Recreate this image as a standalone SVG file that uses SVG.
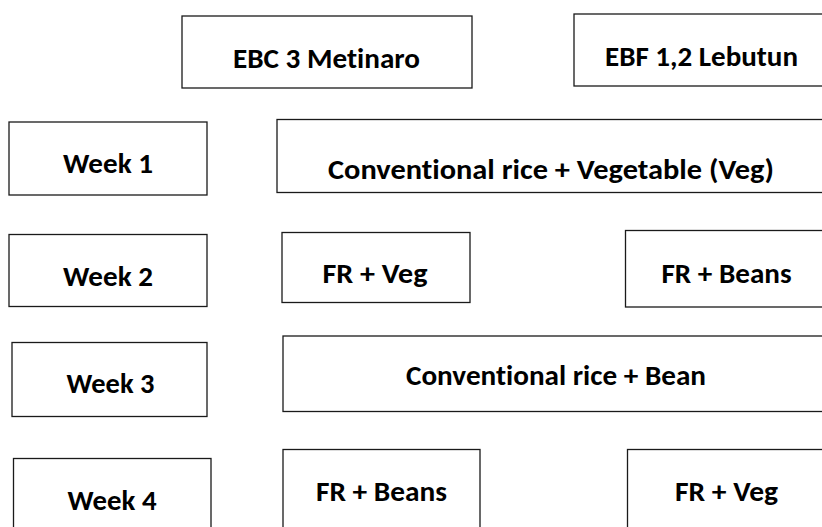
<svg xmlns="http://www.w3.org/2000/svg" width="822" height="527" viewBox="0 0 822 527">
<style>
.box{fill:#fff;stroke:#1a1a1a;stroke-width:1.3}
.lbl{font-family:Carlito,"Open Sans","Liberation Sans",sans-serif;font-weight:700;font-size:29px;fill:#000;text-anchor:middle;font-variant-ligatures:none;font-feature-settings:"liga" 0}
</style>
<rect width="822" height="527" fill="#fff"/>
<g id="n-ebc3"><rect class="box" x="182" y="16" width="290" height="72"/><text class="lbl" x="326.5" y="68" textLength="187" lengthAdjust="spacingAndGlyphs">EBC 3 Metinaro</text></g>
<g id="n-ebf12"><rect class="box" x="574" y="14" width="260" height="72"/><text class="lbl" x="701.5" y="65.5" textLength="193" lengthAdjust="spacingAndGlyphs">EBF 1,2 Lebutun</text></g>
<g id="n-week1"><rect class="box" x="9" y="122" width="198" height="73"/><text class="lbl" x="108" y="173" textLength="90" lengthAdjust="spacingAndGlyphs">Week 1</text></g>
<g id="n-w1-conv"><rect class="box" x="277" y="119.5" width="560" height="73"/><text class="lbl" x="551" y="179" textLength="446" lengthAdjust="spacingAndGlyphs">Conventional rice + Vegetable (Veg)</text></g>
<g id="n-week2"><rect class="box" x="9" y="234.5" width="198" height="72"/><text class="lbl" x="108" y="286" textLength="90" lengthAdjust="spacingAndGlyphs">Week 2</text></g>
<g id="n-w2-frveg"><rect class="box" x="282" y="232.5" width="188" height="70"/><text class="lbl" x="375" y="283" textLength="105" lengthAdjust="spacingAndGlyphs">FR + Veg</text></g>
<g id="n-w2-frbeans"><rect class="box" x="625.5" y="230.5" width="210" height="76.5"/><text class="lbl" x="726.5" y="282.5" textLength="130" lengthAdjust="spacingAndGlyphs">FR + Beans</text></g>
<g id="n-week3"><rect class="box" x="12" y="342.5" width="195" height="74"/><text class="lbl" x="110.5" y="393" textLength="88" lengthAdjust="spacingAndGlyphs">Week 3</text></g>
<g id="n-w3-conv"><rect class="box" x="283" y="336" width="560" height="75.5"/><text class="lbl" x="556" y="384.5" textLength="300" lengthAdjust="spacingAndGlyphs">Conventional rice + Bean</text></g>
<g id="n-week4"><rect class="box" x="13.5" y="458.5" width="197.5" height="80"/><text class="lbl" x="112" y="510" textLength="89" lengthAdjust="spacingAndGlyphs">Week 4</text></g>
<g id="n-w4-frbeans"><rect class="box" x="283" y="449.5" width="197" height="90"/><text class="lbl" x="381.5" y="500.5" textLength="131" lengthAdjust="spacingAndGlyphs">FR + Beans</text></g>
<g id="n-w4-frveg"><rect class="box" x="627.5" y="449.5" width="210" height="90"/><text class="lbl" x="726.5" y="500.5" textLength="103" lengthAdjust="spacingAndGlyphs">FR + Veg</text></g>
<g id="connectors"></g>
</svg>
